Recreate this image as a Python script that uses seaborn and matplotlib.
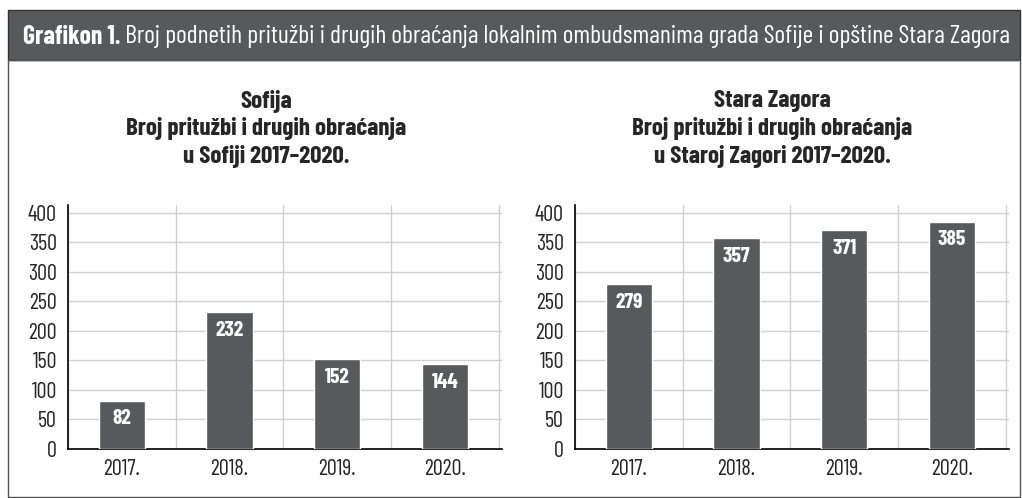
import matplotlib
matplotlib.use("Agg")
import matplotlib.pyplot as plt
import seaborn as sns
import pandas as pd
from matplotlib.patches import Rectangle

# Data
years = ["2017.", "2018.", "2019.", "2020."]
sofija = [82, 232, 152, 144]
stara_zagora = [279, 357, 371, 385]

header_bold = "Grafikon 1."
header_rest = " Broj podnetih pritužbi i drugih obraćanja lokalnim ombudsmanima grada Sofije i opštine Stara Zagora"
title_left = "Sofija\nBroj pritužbi i drugih obraćanja\nu Sofiji 2017–2020."
title_right = "Stara Zagora\nBroj pritužbi i drugih obraćanja\nu Staroj Zagori 2017–2020."

sns.set_style("white")
plt.rcParams["font.family"] = ["Barlow Condensed", "DejaVu Sans"]

bar_color = "#58595b"
grid_color = "#d0d0d0"

fig = plt.figure(figsize=(10.22, 4.98), dpi=100)

# header bar and frame
fig.patches.append(Rectangle((8 / 1022, 1 - 60 / 498), 1012 / 1022, 50 / 498,
                             transform=fig.transFigure, facecolor=bar_color,
                             edgecolor="#333333", linewidth=1, zorder=0))
fig.patches.append(Rectangle((8 / 1022, 1 / 498), 1012 / 1022, 437 / 498,
                             transform=fig.transFigure, facecolor="none",
                             edgecolor="#555555", linewidth=1, zorder=0))
t = fig.text(23 / 1022, 1 - 37 / 498, header_bold, color="white", fontsize=18.5,
             fontweight="bold", va="center", ha="left")
fig.canvas.draw()
bb = t.get_window_extent()
fig.text(bb.x1 / 1022, 1 - 37 / 498, header_rest, color="white", fontsize=18.5,
         va="center", ha="left")

ax_left = fig.add_axes([68 / 1022, 49 / 498, 434 / 1022, 244 / 498])
ax_right = fig.add_axes([575 / 1022, 49 / 498, 434 / 1022, 244 / 498])

for ax, vals, title, tx in [(ax_left, sofija, title_left, 266),
                            (ax_right, stara_zagora, title_right, 772)]:
    df = pd.DataFrame({"year": years, "value": vals})
    sns.barplot(data=df, x="year", y="value", color=bar_color, width=0.43,
                saturation=1, ax=ax, zorder=3)
    ax.bar_label(ax.containers[0], fmt="%d", padding=-20, color="white",
                 fontweight="bold", fontsize=15.5)
    ax.set_xlim(-0.5, 3.53)
    ax.set_ylim(0, 413)
    ax.set_yticks(range(0, 401, 50))
    ax.set_xticks([-0.5, 0.5, 1.5, 2.5, 3.5])
    ax.set_xticklabels([])
    ax.set_xticks(range(4), labels=years, minor=True)
    ax.tick_params(axis="x", which="major", length=6, color=grid_color, width=1)
    ax.tick_params(axis="x", which="minor", length=0, labelsize=16, pad=7)
    ax.tick_params(axis="y", length=5, color=grid_color, labelsize=16, pad=3)
    ax.grid(True, axis="both", which="major", color=grid_color, linewidth=1, zorder=0)
    ax.set_axisbelow(True)
    ax.set_xlabel("")
    ax.set_ylabel("")
    for s in ["top", "right"]:
        ax.spines[s].set_visible(False)
    for s in ["left", "bottom"]:
        ax.spines[s].set_color("black")
        ax.spines[s].set_linewidth(1.2)
    fig.text(tx / 1022, 1 - 129 / 498, title, ha="center", va="center",
             fontsize=18, fontweight="bold", linespacing=1.25)

fig.savefig("out.png", dpi=100)
